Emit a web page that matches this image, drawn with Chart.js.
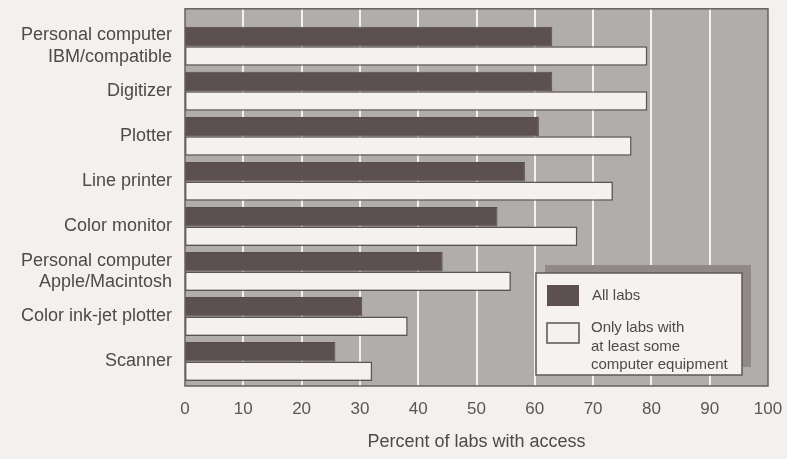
<!DOCTYPE html>
<html>
<head>
<meta charset="utf-8">
<script src="https://cdn.jsdelivr.net/npm/chart.js@4.4.1/dist/chart.umd.min.js"></script>
<style>
  body { margin: 0; background: #f3f0ed; }
  #wrap { width: 787px; height: 459px; position: relative; }
</style>
</head>
<body>
<div id="wrap"><canvas id="labChart"></canvas></div>
<script>
// data
var categories = [
    ["Personal computer", "IBM/compatible"],
    "Digitizer",
    "Plotter",
    "Line printer",
    "Color monitor",
    ["Personal computer", "Apple/Macintosh"],
    "Color ink-jet plotter",
    "Scanner"
];
var allLabs = [63, 63, 60.7, 58.3, 53.6, 44.2, 30.4, 25.8];
var equippedLabs = [79.3, 79.3, 76.6, 73.4, 67.3, 55.9, 38.2, 32.1];
var seriesNames = ["All labs", ["Only labs with", "at least some", "computer equipment"]];
var xTicks = [0, 10, 20, 30, 40, 50, 60, 70, 80, 90, 100];

var ctx = document.getElementById("labChart").getContext("2d");
var textColor = "#4e4a48";
var fontName = "'Liberation Sans', Arial, sans-serif";

// grey panel with white grid lines, taller than the bar area
var panelPlugin = {
    id: "panel",
    beforeDatasetsDraw: function (chart) {
        var a = chart.chartArea, c = chart.ctx, xs = chart.scales.x;
        c.save();
        c.fillStyle = "#b1adaa";
        c.fillRect(a.left, a.top - 15, a.right - a.left, a.bottom - a.top + 17);
        c.strokeStyle = "#f4f2f0";
        c.lineWidth = 2;
        for (var i = 1; i < xTicks.length - 1; i++) {
            var px = Math.round(xs.getPixelForValue(xTicks[i]));
            c.beginPath();
            c.moveTo(px, a.top - 15);
            c.lineTo(px, a.bottom + 2);
            c.stroke();
        }
        c.restore();
    },
    afterDatasetsDraw: function (chart) {
        var a = chart.chartArea, c = chart.ctx;
        c.save();
        c.strokeStyle = "#66615f";
        c.lineWidth = 1.5;
        c.strokeRect(a.left, a.top - 15, a.right - a.left, a.bottom - a.top + 17);
        c.restore();
    }
};

// boxed legend with a drop shadow, lower right of the panel
var legendPlugin = {
    id: "boxLegend",
    afterDraw: function (chart) {
        var c = chart.ctx, ds = chart.data.datasets;
        c.save();
        c.fillStyle = "#8f8a87";
        c.fillRect(545, 265, 206, 102);
        c.fillStyle = "#f5f2f0";
        c.fillRect(536, 273, 206, 102);
        c.strokeStyle = "#5f5a58";
        c.lineWidth = 1.5;
        c.strokeRect(536, 273, 206, 102);

        c.fillStyle = ds[0].backgroundColor;
        c.fillRect(547, 285, 32, 21);
        c.fillStyle = ds[1].backgroundColor;
        c.fillRect(547, 323, 32, 20);
        c.strokeStyle = ds[1].borderColor;
        c.strokeRect(547, 323, 32, 20);

        c.fillStyle = textColor;
        c.font = "15px " + fontName;
        c.textBaseline = "middle";
        c.fillText(ds[0].label, 592, 296);
        var lines = ds[1].label;
        for (var i = 0; i < lines.length; i++) {
            c.fillText(lines[i], 591, 328 + i * 18.5);
        }
        c.restore();
    }
};

var chart = new Chart(ctx, {
    type: "bar",
    data: {
        labels: categories,
        datasets: [
            {
                label: seriesNames[0],
                data: allLabs,
                backgroundColor: "#5c5150",
                borderColor: "#564c4b",
                borderWidth: 1,
                borderSkipped: false,
                categoryPercentage: 0.865,
                barPercentage: 1
            },
            {
                label: seriesNames[1],
                data: equippedLabs,
                backgroundColor: "#f5f1f0",
                borderColor: "#5a5553",
                borderWidth: 1.5,
                borderSkipped: false,
                categoryPercentage: 0.865,
                barPercentage: 1
            }
        ]
    },
    options: {
        indexAxis: "y",
        responsive: true,
        maintainAspectRatio: false,
        animation: false,
        layout: { padding: { top: 23, right: 19, bottom: 0, left: 0 } },
        plugins: {
            legend: { display: false },
            tooltip: { enabled: false }
        },
        scales: {
            x: {
                min: 0,
                max: 100,
                afterBuildTicks: function (s) {
                    s.ticks = xTicks.map(function (v) { return { value: v }; });
                },
                afterFit: function (s) {
                    s.height = 75;
                    s.paddingRight = 0;
                    s.paddingLeft = 0;
                },
                grid: { display: false, drawTicks: false },
                border: { display: false },
                ticks: {
                    color: "#5a5654",
                    padding: 15,
                    maxRotation: 0,
                    font: { family: fontName, size: 17 }
                },
                title: {
                    display: true,
                    text: "Percent of labs with access",
                    color: textColor,
                    padding: { top: 0, bottom: 6 },
                    font: { family: fontName, size: 18 }
                }
            },
            y: {
                afterFit: function (s) { s.width = 185; },
                grid: { display: false, drawTicks: false },
                border: { display: false },
                ticks: {
                    color: textColor,
                    padding: 13,
                    autoSkip: false,
                    font: { family: fontName, size: 18, lineHeight: 1.2 }
                }
            }
        }
    },
    plugins: [panelPlugin, legendPlugin]
});
</script>
</body>
</html>
